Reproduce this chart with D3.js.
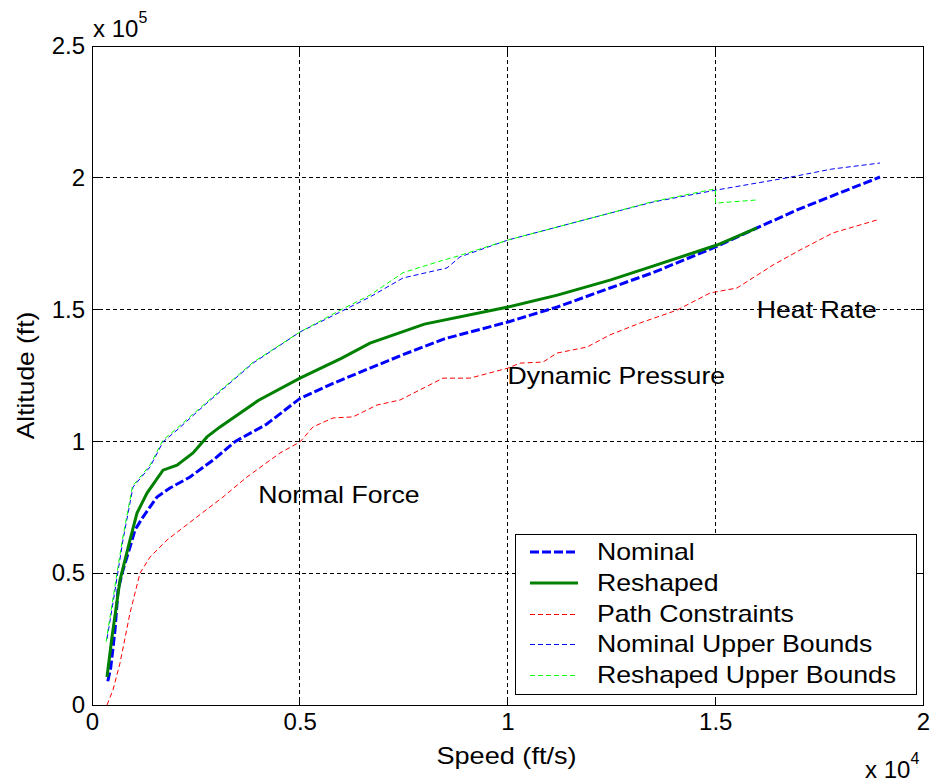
<!DOCTYPE html>
<html>
<head>
<meta charset="utf-8">
<script src="https://cdn.jsdelivr.net/npm/d3@7"></script>
<style>
  html, body { margin: 0; padding: 0; background: #fff; }
  svg text { font-family: "Liberation Sans", Arial, sans-serif; fill: #000; }
</style>
</head>
<body>
<svg id="chart" width="937" height="782"></svg>
<script>
// Speed (ft/s) and altitude (ft) for each trajectory
const nominalSpeed = [380, 450, 554, 626, 746, 915, 1035, 1227, 1564, 1877, 2359, 2912, 3450, 4200, 5006, 5800, 6691, 7500, 8500, 10012, 11200, 12467, 13500, 15042, 16005, 17000, 18000, 18965];
const nominalAlt   = [9000, 14000, 28500, 43600, 51200, 59900, 66400, 71300, 78900, 82300, 86500, 92900, 100000, 106500, 116300, 122000, 127800, 133000, 139000, 145300, 151000, 158200, 164000, 174000, 181000, 188000, 194300, 200300];

const reshapedSpeed = [361, 481, 674, 915, 1083, 1324, 1709, 2046, 2431, 2768, 3081, 4000, 5006, 6000, 6691, 8000, 10012, 11200, 12467, 13500, 15042, 16005];
const reshapedAlt   = [10600, 25800, 47400, 62600, 72800, 80400, 89100, 91000, 95600, 101700, 105500, 115500, 124000, 131500, 137300, 144500, 151000, 155500, 161200, 166500, 174500, 181000];

const pathSpeed = [361, 505, 674, 915, 1155, 1396, 1805, 2431, 3153, 3730, 4525, 5006, 5319, 5800, 6282, 6859, 7413, 8448, 9097, 10012, 10301, 10854, 11191, 11913, 12467, 13189, 14079, 14874, 15523, 16390, 17040, 17834, 18893];
const pathAlt   = [0, 5700, 15900, 34900, 50000, 56100, 62600, 70200, 78900, 86500, 95600, 99800, 105500, 108900, 109300, 113800, 115700, 124000, 124000, 127800, 129700, 130100, 133500, 135800, 140400, 144900, 149800, 156300, 158200, 166900, 172600, 179100, 184000];

const nomUpperSpeed = [360, 505, 746, 987, 1396, 1709, 2046, 2768, 3875, 5006, 6000, 6691, 7485, 8544, 8857, 10012, 11191, 12467, 13500, 15042, 16730, 17800, 18965];
const nomUpperAlt   = [25000, 38700, 62600, 82700, 90300, 99800, 104300, 114600, 129700, 141500, 149300, 154800, 162000, 165800, 170000, 176400, 181300, 186600, 190800, 195400, 200000, 203300, 205600];

const resUpperSpeed = [340, 480, 730, 975, 1396, 1709, 2046, 2768, 3875, 5006, 6000, 6691, 7485, 8400, 8784, 10012, 11191, 12467, 13500, 15000, 15010, 16005];
const resUpperAlt   = [24000, 38000, 62600, 83000, 91000, 100500, 105000, 115000, 130000, 141500, 150000, 155500, 164000, 168500, 170200, 176400, 181300, 186600, 191000, 195800, 190400, 191600];

// Axis ticks (scaled units: x in 1e4 ft/s, y in 1e5 ft)
const xTicks = [0, 0.5, 1, 1.5, 2];
const yTicks = [0, 0.5, 1, 1.5, 2, 2.5];

const seriesNames = ["Nominal", "Reshaped", "Path Constraints", "Nominal Upper Bounds", "Reshaped Upper Bounds"];

const annotations = [
  { text: "Normal Force", x: 4000, y: 80000 },
  { text: "Dynamic Pressure", x: 10000, y: 125000 },
  { text: "Heat Rate", x: 16000, y: 150000 }
];

const svg = d3.select("#chart");
const mLeft = 92, mRight = 923, mTop = 46, mBottom = 705;

const x = d3.scaleLinear().domain([0, 20000]).range([mLeft, mRight]);
const y = d3.scaleLinear().domain([0, 250000]).range([mBottom, mTop]);

const FONT = 24;
const WIDEN = 1.11; // labels are set slightly wider than the stock glyphs

function widen(sel, k = WIDEN) {
  sel.each(function () {
    const w = this.getComputedTextLength();
    d3.select(this).attr("textLength", w * k).attr("lengthAdjust", "spacingAndGlyphs");
  });
  return sel;
}

// grid
const grid = svg.append("g").attr("shape-rendering", "crispEdges");
xTicks.filter(t => t > 0 && t < 2).forEach(t => {
  grid.append("line")
    .attr("x1", x(t * 1e4)).attr("x2", x(t * 1e4))
    .attr("y1", mTop).attr("y2", mBottom)
    .attr("stroke", "#000").attr("stroke-width", 1)
    .attr("stroke-dasharray", "4,3");
});
yTicks.filter(t => t > 0 && t < 2.5).forEach(t => {
  grid.append("line")
    .attr("x1", mLeft).attr("x2", mRight)
    .attr("y1", y(t * 1e5)).attr("y2", y(t * 1e5))
    .attr("stroke", "#000").attr("stroke-width", 1)
    .attr("stroke-dasharray", "4,3");
});

// axes
const xAxisB = d3.axisBottom(x).tickValues(xTicks.map(t => t * 1e4)).tickSize(0).tickPadding(8).tickFormat((d, i) => String(xTicks[i]));
const yAxisL = d3.axisLeft(y).tickValues(yTicks.map(t => t * 1e5)).tickSize(0).tickPadding(7).tickFormat((d, i) => String(yTicks[i]));

const gx = svg.append("g").attr("transform", `translate(0,${mBottom})`).call(xAxisB);
const gy = svg.append("g").attr("transform", `translate(${mLeft},0)`).call(yAxisL);
[gx, gy].forEach(g => {
  g.select(".domain").remove();
  g.selectAll("text").style("font-family", '"Liberation Sans", Arial, sans-serif').style("font-size", FONT + "px").attr("fill", "#000");
});

// inward tick marks on all four sides
const tickLen = 7;
const ticks = svg.append("g").attr("stroke", "#000").attr("stroke-width", 1).attr("shape-rendering", "crispEdges");
xTicks.forEach(t => {
  const px = x(t * 1e4);
  ticks.append("line").attr("x1", px).attr("x2", px).attr("y1", mBottom).attr("y2", mBottom - tickLen);
  ticks.append("line").attr("x1", px).attr("x2", px).attr("y1", mTop).attr("y2", mTop + tickLen);
});
yTicks.forEach(t => {
  const py = y(t * 1e5);
  ticks.append("line").attr("x1", mLeft).attr("x2", mLeft + tickLen).attr("y1", py).attr("y2", py);
  ticks.append("line").attr("x1", mRight).attr("x2", mRight - tickLen).attr("y1", py).attr("y2", py);
});

// series
const mk = (sx, sy) => sx.map((v, i) => [v, sy[i]]);
const line = d3.line().x(d => x(d[0])).y(d => y(d[1]));
const styles = [
  { data: mk(nominalSpeed, nominalAlt), color: "#0000ff", width: 3, dash: "9,3" },
  { data: mk(reshapedSpeed, reshapedAlt), color: "#008000", width: 3, dash: null },
  { data: mk(pathSpeed, pathAlt), color: "#ff0000", width: 1, dash: "5,3" },
  { data: mk(nomUpperSpeed, nomUpperAlt), color: "#0000ff", width: 1, dash: "5,3" },
  { data: mk(resUpperSpeed, resUpperAlt), color: "#00ff00", width: 1, dash: "5,3" }
];
const plot = svg.append("g");
styles.forEach(s => {
  plot.append("path")
    .attr("d", line(s.data))
    .attr("fill", "none")
    .attr("stroke", s.color)
    .attr("stroke-width", s.width)
    .attr("stroke-dasharray", s.dash);
});

// axes box
svg.append("rect").attr("x", mLeft).attr("y", mTop).attr("width", mRight - mLeft).attr("height", mBottom - mTop)
  .attr("fill", "none").attr("stroke", "#000").attr("stroke-width", 1).attr("shape-rendering", "crispEdges");

// annotations
annotations.forEach(a => {
  widen(svg.append("text").attr("x", x(a.x)).attr("y", y(a.y)).attr("dy", "0.35em")
    .style("font-size", FONT + "px").text(a.text));
});

// axis labels
widen(svg.append("text").attr("x", (mLeft + mRight) / 2 - 1).attr("y", 764).attr("text-anchor", "middle")
  .style("font-size", FONT + "px").text("Speed (ft/s)"), 1.13);
widen(svg.append("text").attr("transform", `translate(34,${(mTop + mBottom) / 2}) rotate(-90)`).attr("text-anchor", "middle")
  .style("font-size", FONT + "px").text("Altitude (ft)"), 1.1);

// exponent multipliers
const e5 = svg.append("text").attr("x", 93).attr("y", 37).style("font-size", FONT + "px");
e5.append("tspan").text("x 10");
e5.append("tspan").attr("dy", -14).style("font-size", "16px").text("5");
const e4 = svg.append("text").attr("x", 865).attr("y", 778).style("font-size", FONT + "px");
e4.append("tspan").text("x 10");
e4.append("tspan").attr("dy", -14).style("font-size", "16px").text("4");

// legend
const lg = svg.append("g");
const lx = 515, ly = 534, lw = 401, lh = 160;
lg.append("rect").attr("x", lx).attr("y", ly).attr("width", lw).attr("height", lh)
  .attr("fill", "#fff").attr("stroke", "#000").attr("stroke-width", 1).attr("shape-rendering", "crispEdges");
seriesNames.forEach((name, i) => {
  const cy = Math.round(552 + i * 30.8);
  const s = styles[i];
  lg.append("line").attr("x1", 530).attr("x2", 578).attr("y1", cy).attr("y2", cy)
    .attr("stroke", s.color).attr("stroke-width", s.width).attr("stroke-dasharray", s.dash)
    .attr("shape-rendering", s.width === 1 ? "crispEdges" : null);
  widen(lg.append("text").attr("x", 597).attr("y", cy).attr("dy", "0.35em")
    .style("font-size", FONT + "px").text(name));
});
</script>
</body>
</html>
